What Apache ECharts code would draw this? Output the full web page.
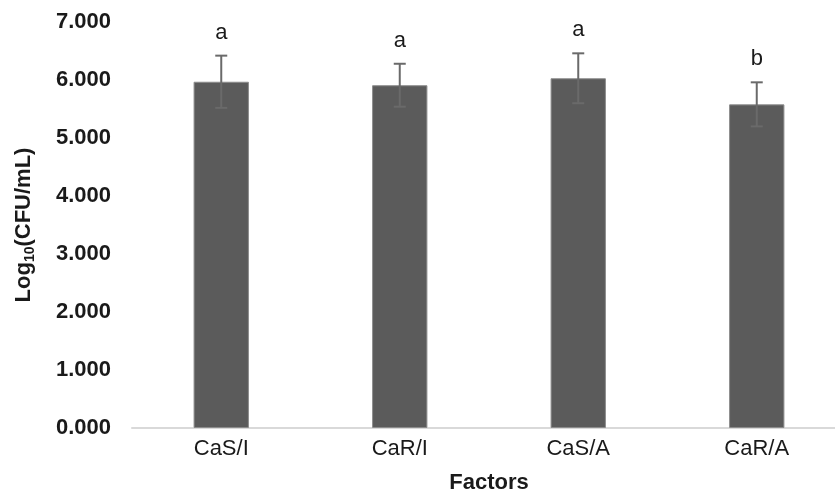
<!DOCTYPE html>
<html>
<head>
<meta charset="utf-8">
<script src="https://cdn.jsdelivr.net/npm/echarts@6/dist/echarts.min.js"></script>
<style>
  html, body { margin: 0; padding: 0; background: #fff; }
  #chart { width: 835px; height: 492px; }
</style>
</head>
<body>
<div id="chart"></div>
<script>
// Treatment groups and their mean counts with standard deviations
const categories = ['CaS/I', 'CaR/I', 'CaS/A', 'CaR/A'];
const means = [5.97, 5.91, 6.03, 5.58];
const errors = [0.45, 0.37, 0.43, 0.38];
// Significance letters shown above each bar
const letters = ['a', 'a', 'a', 'b'];
const yTicks = [0, 1, 2, 3, 4, 5, 6, 7];

const FONT = '"Liberation Sans", Arial, sans-serif';

const chart = echarts.init(document.getElementById('chart'), null, { renderer: 'canvas' });

const errorData = categories.map((c, i) => [i, means[i], errors[i], letters[i]]);

chart.setOption({
  animation: false,
  backgroundColor: '#ffffff',
  // the plot runs slightly past the right edge of the canvas
  grid: { left: 132, width: 714, top: 22, bottom: 64, containLabel: false, outerBoundsMode: 'none' },
  xAxis: {
    type: 'category',
    data: categories,
    name: 'Factors',
    nameLocation: 'middle',
    nameGap: 44,
    nameTextStyle: { fontFamily: FONT, fontSize: 22, fontWeight: 'bold', color: '#1a1a1a' },
    axisLine: { lineStyle: { color: '#d9d9d9', width: 2 } },
    axisTick: { show: false },
    axisLabel: { fontFamily: FONT, fontSize: 22, color: '#1a1a1a', margin: 10 }
  },
  yAxis: {
    type: 'value',
    min: yTicks[0],
    max: yTicks[yTicks.length - 1],
    interval: 1,
    name: '{a|Log}{b|10}{a|(CFU/mL)}',
    nameLocation: 'middle',
    nameRotate: 90,
    nameGap: 95,
    nameTextStyle: {
      rich: {
        a: { fontFamily: FONT, fontSize: 22, fontWeight: 'bold', color: '#1a1a1a', lineHeight: 26 },
        b: { fontFamily: FONT, fontSize: 14, fontWeight: 'bold', color: '#1a1a1a', lineHeight: 14, verticalAlign: 'bottom' }
      }
    },
    axisLine: { show: false },
    axisTick: { show: false },
    splitLine: { show: false },
    axisLabel: {
      fontFamily: FONT, fontSize: 22, fontWeight: 'bold', color: '#1a1a1a', margin: 21,
      formatter: v => v.toFixed(3)
    }
  },
  series: [
    {
      type: 'bar',
      data: means,
      barWidth: '31%',
      itemStyle: { color: '#5b5b5b', borderColor: '#8c8c8c', borderWidth: 1 },
      z: 2
    },
    {
      type: 'custom',
      data: errorData,
      z: 3,
      renderItem: (params, api) => {
        const x = api.value(0);
        const m = api.value(1);
        const e = api.value(2);
        const top = api.coord([x, m + e]);
        const bot = api.coord([x, m - e]);
        const capHalf = 6;
        const stroke = { stroke: '#6a6a6a', lineWidth: 2 };
        return {
          type: 'group',
          children: [
            { type: 'line', shape: { x1: top[0], y1: top[1], x2: bot[0], y2: bot[1] }, style: stroke },
            { type: 'line', shape: { x1: top[0] - capHalf, y1: top[1], x2: top[0] + capHalf, y2: top[1] }, style: stroke },
            { type: 'line', shape: { x1: bot[0] - capHalf, y1: bot[1], x2: bot[0] + capHalf, y2: bot[1] }, style: stroke },
            {
              type: 'text',
              x: top[0], y: top[1] - 12,
              style: {
                text: api.value(3),
                fontFamily: FONT, fontSize: 22, fill: '#1a1a1a',
                align: 'center', verticalAlign: 'bottom'
              }
            }
          ]
        };
      }
    }
  ]
});
</script>
</body>
</html>
